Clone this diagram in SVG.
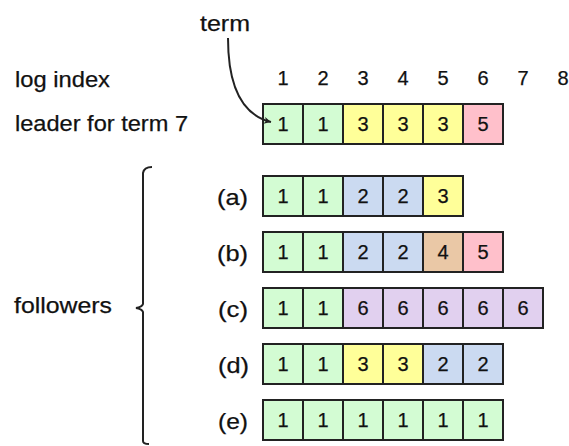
<svg xmlns="http://www.w3.org/2000/svg" width="569" height="446" viewBox="0 0 569 446">
<defs>
<style>
.lbl{font-family:"Liberation Sans",Arial,sans-serif;font-size:22px;fill:#111;stroke:#111;stroke-width:0.25}
.idx{font-family:"Liberation Sans",Arial,sans-serif;font-size:20px;fill:#111;stroke:#111;stroke-width:0.25;text-anchor:middle}
.c{stroke:#222;stroke-width:2}
.v{font-family:"Liberation Sans",Arial,sans-serif;font-size:20px;fill:#111;stroke:#111;stroke-width:0.25;text-anchor:middle}
.g{fill:#d3fcd3}.y{fill:#ffff99}.b{fill:#cbdaf1}.p{fill:#ffc0cb}.t{fill:#eac8a6}.l{fill:#e1d0ef}
.line{fill:none;stroke:#222;stroke-width:2}
</style>
<marker id="ah" markerWidth="8" markerHeight="8" refX="7" refY="4" orient="auto" markerUnits="userSpaceOnUse">
<path d="M0,0.5 L7,4 L0,7.5 L2,4 Z" fill="#222"/>
</marker>
</defs>
<rect width="569" height="446" fill="#fff"/>

<g id="labels">
<text class="lbl" x="200" y="31" textLength="50" lengthAdjust="spacingAndGlyphs">term</text>
<text class="lbl" x="15" y="87" textLength="95" lengthAdjust="spacingAndGlyphs">log index</text>
<text class="lbl" x="15" y="131" textLength="173" lengthAdjust="spacingAndGlyphs">leader for term 7</text>
<text class="lbl" x="14" y="313" textLength="98" lengthAdjust="spacingAndGlyphs">followers</text>
</g>

<g id="index">
<text class="idx" x="283" y="85">1</text>
<text class="idx" x="323" y="85">2</text>
<text class="idx" x="363" y="85">3</text>
<text class="idx" x="403" y="85">4</text>
<text class="idx" x="443" y="85">5</text>
<text class="idx" x="483" y="85">6</text>
<text class="idx" x="523" y="85">7</text>
<text class="idx" x="563" y="85">8</text>
</g>

<g id="leader">
<rect class="c g" x="263" y="104" width="40" height="40"/><text class="v" x="283" y="131">1</text>
<rect class="c g" x="303" y="104" width="40" height="40"/><text class="v" x="323" y="131">1</text>
<rect class="c y" x="343" y="104" width="40" height="40"/><text class="v" x="363" y="131">3</text>
<rect class="c y" x="383" y="104" width="40" height="40"/><text class="v" x="403" y="131">3</text>
<rect class="c y" x="423" y="104" width="40" height="40"/><text class="v" x="443" y="131">3</text>
<rect class="c p" x="463" y="104" width="40" height="40"/><text class="v" x="483" y="131">5</text>
</g>

<g id="row-a">
<text class="lbl" x="217" y="205" textLength="31" lengthAdjust="spacingAndGlyphs">(a)</text>
<rect class="c g" x="263" y="176" width="40" height="40"/><text class="v" x="283" y="203">1</text>
<rect class="c g" x="303" y="176" width="40" height="40"/><text class="v" x="323" y="203">1</text>
<rect class="c b" x="343" y="176" width="40" height="40"/><text class="v" x="363" y="203">2</text>
<rect class="c b" x="383" y="176" width="40" height="40"/><text class="v" x="403" y="203">2</text>
<rect class="c y" x="423" y="176" width="40" height="40"/><text class="v" x="443" y="203">3</text>
</g>

<g id="row-b">
<text class="lbl" x="217" y="261" textLength="31" lengthAdjust="spacingAndGlyphs">(b)</text>
<rect class="c g" x="263" y="232" width="40" height="40"/><text class="v" x="283" y="259">1</text>
<rect class="c g" x="303" y="232" width="40" height="40"/><text class="v" x="323" y="259">1</text>
<rect class="c b" x="343" y="232" width="40" height="40"/><text class="v" x="363" y="259">2</text>
<rect class="c b" x="383" y="232" width="40" height="40"/><text class="v" x="403" y="259">2</text>
<rect class="c t" x="423" y="232" width="40" height="40"/><text class="v" x="443" y="259">4</text>
<rect class="c p" x="463" y="232" width="40" height="40"/><text class="v" x="483" y="259">5</text>
</g>

<g id="row-c">
<text class="lbl" x="218" y="317" textLength="30" lengthAdjust="spacingAndGlyphs">(c)</text>
<rect class="c g" x="263" y="288" width="40" height="40"/><text class="v" x="283" y="315">1</text>
<rect class="c g" x="303" y="288" width="40" height="40"/><text class="v" x="323" y="315">1</text>
<rect class="c l" x="343" y="288" width="40" height="40"/><text class="v" x="363" y="315">6</text>
<rect class="c l" x="383" y="288" width="40" height="40"/><text class="v" x="403" y="315">6</text>
<rect class="c l" x="423" y="288" width="40" height="40"/><text class="v" x="443" y="315">6</text>
<rect class="c l" x="463" y="288" width="40" height="40"/><text class="v" x="483" y="315">6</text>
<rect class="c l" x="503" y="288" width="40" height="40"/><text class="v" x="523" y="315">6</text>
</g>

<g id="row-d">
<text class="lbl" x="218" y="373" textLength="31" lengthAdjust="spacingAndGlyphs">(d)</text>
<rect class="c g" x="263" y="344" width="40" height="40"/><text class="v" x="283" y="371">1</text>
<rect class="c g" x="303" y="344" width="40" height="40"/><text class="v" x="323" y="371">1</text>
<rect class="c y" x="343" y="344" width="40" height="40"/><text class="v" x="363" y="371">3</text>
<rect class="c y" x="383" y="344" width="40" height="40"/><text class="v" x="403" y="371">3</text>
<rect class="c b" x="423" y="344" width="40" height="40"/><text class="v" x="443" y="371">2</text>
<rect class="c b" x="463" y="344" width="40" height="40"/><text class="v" x="483" y="371">2</text>
</g>

<g id="row-e">
<text class="lbl" x="218" y="429" textLength="30" lengthAdjust="spacingAndGlyphs">(e)</text>
<rect class="c g" x="263" y="400" width="40" height="40"/><text class="v" x="283" y="427">1</text>
<rect class="c g" x="303" y="400" width="40" height="40"/><text class="v" x="323" y="427">1</text>
<rect class="c g" x="343" y="400" width="40" height="40"/><text class="v" x="363" y="427">1</text>
<rect class="c g" x="383" y="400" width="40" height="40"/><text class="v" x="403" y="427">1</text>
<rect class="c g" x="423" y="400" width="40" height="40"/><text class="v" x="443" y="427">1</text>
<rect class="c g" x="463" y="400" width="40" height="40"/><text class="v" x="483" y="427">1</text>
</g>

<g id="connectors">
<path class="line" d="M228,38 C228,80 238,114 271,122" marker-end="url(#ah)"/>
<path class="line" d="M152,167 Q144,167 143,173 L143,304 Q142,307 136,308 Q142,309 143,312 L143,441 Q143,444 149,444"/>
</g>
</svg>
